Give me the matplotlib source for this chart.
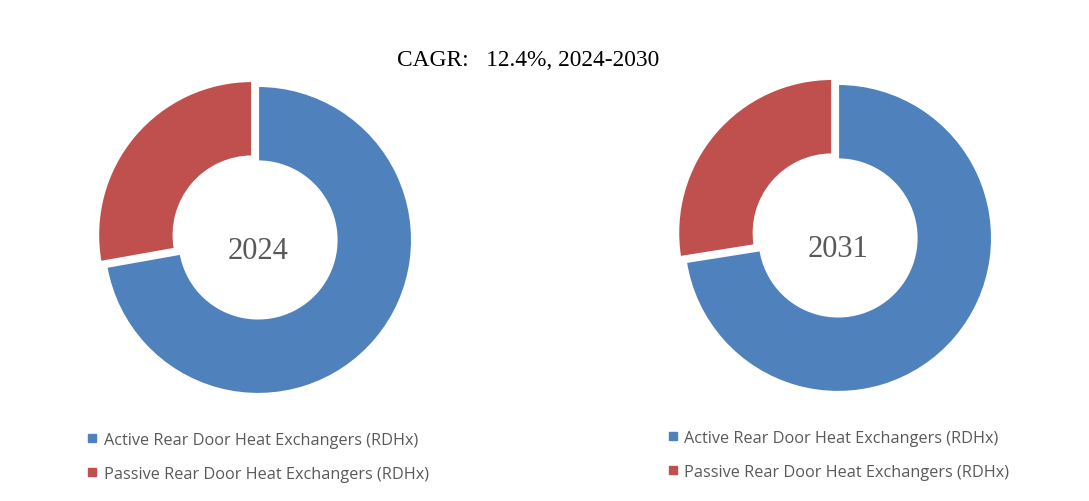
import matplotlib
matplotlib.use("Agg")
import matplotlib.pyplot as plt
from matplotlib.lines import Line2D

# data
segments = ["Active Rear Door Heat Exchangers (RDHx)", "Passive Rear Door Heat Exchangers (RDHx)"]
share_2024 = [72.2, 27.8]
share_2031 = [72.5, 27.5]
years = ["2024", "2031"]
title = "CAGR:   12.4%, 2024-2030"
colors = ["#4F81BD", "#C0504D"]

fig = plt.figure(figsize=(10.89, 5.02), dpi=100)
fig.patch.set_facecolor("white")

fig.text(0.485, 0.88, title, ha="center", va="center", fontsize=16.8,
         family="Liberation Serif", color="black")

boxes = [[0.0814, 0.1825, 0.3111, 0.675], [0.614, 0.1865, 0.3111, 0.675]]
legend_pos = [(0.067, 0.167), (0.600, 0.171)]

for box, vals, yr, lp in zip(boxes, [share_2024, share_2031], years, legend_pos):
    ax = fig.add_axes(box)
    wedges, _ = ax.pie(vals, colors=colors, startangle=90, counterclock=False,
                       explode=[0, 0.05], radius=1,
                       wedgeprops=dict(width=0.49, edgecolor="white", linewidth=1.5))
    ax.set_xlim(-1.1, 1.1)
    ax.set_ylim(-1.1, 1.1)
    ax.set_aspect("equal")
    ax.axis("off")
    ax.text(0, -0.07, yr, ha="center", va="center", fontsize=22,
            family="Liberation Serif", color="#595959")

    handles = [Line2D([], [], marker="s", color=c, linestyle="none", markersize=5.5)
               for c in colors]
    fig.legend(handles, segments, loc="upper left", bbox_to_anchor=lp, frameon=False,
               handlelength=0.6, handletextpad=0.4, labelspacing=1.1,
               prop=dict(family="Open Sans", size=11.7), labelcolor="#595959")

fig.savefig("out.png", dpi=100, facecolor="white")
